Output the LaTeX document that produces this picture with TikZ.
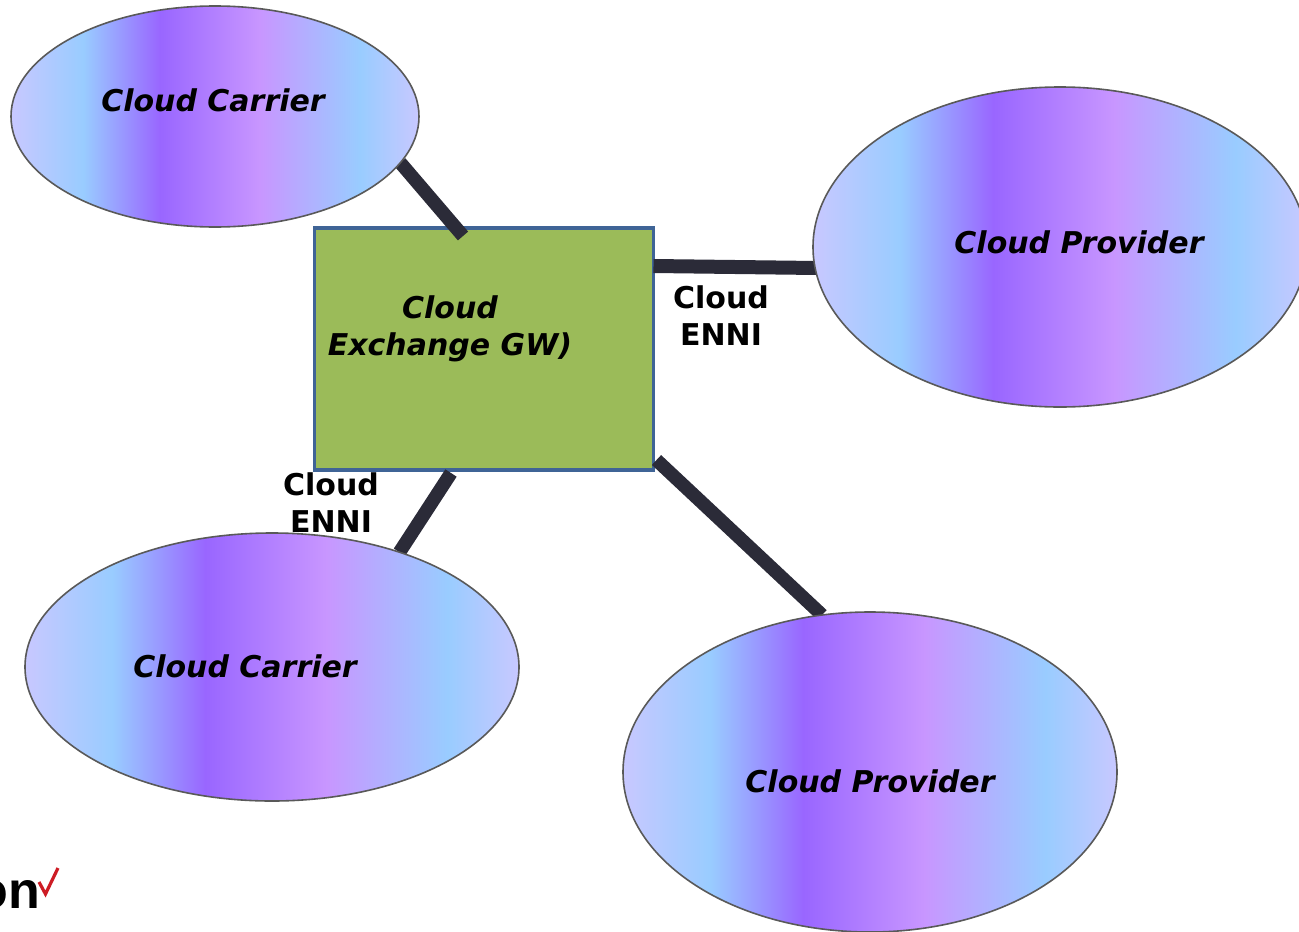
\documentclass[tikz,border=0pt]{standalone}
\usepackage{fontspec}
\setmainfont{DejaVu Sans}
\newfontfamily\logofont{Liberation Sans}
\usetikzlibrary{shapes.geometric}
\definecolor{lineink}{HTML}{2B2B38}
\definecolor{gwfill}{HTML}{9BBB59}
\definecolor{gwedge}{HTML}{3F6496}
\definecolor{ringedge}{HTML}{595959}
\definecolor{checkred}{HTML}{CD1C24}
\definecolor{gradend}{HTML}{C8C8FF}
\definecolor{gradblue}{HTML}{99CCFF}
\definecolor{gradviolet}{HTML}{9966FF}
\definecolor{gradlilac}{HTML}{C896FF}
\pgfdeclarehorizontalshading{cloudfill}{100bp}{
  color(0bp)=(gradend);
  color(25bp)=(gradend);
  color(33.85bp)=(gradblue);
  color(43.25bp)=(gradviolet);
  color(55.5bp)=(gradlilac);
  color(67.75bp)=(gradblue);
  color(75bp)=(gradend);
  color(100bp)=(gradend)}
\pgfdeclarelayer{gwlayer}
\pgfdeclarelayer{linelayer}
\pgfsetlayers{gwlayer,linelayer,main}
\tikzset{
  cloudring/.style={ellipse,shade,shading=cloudfill,draw=ringedge,line width=1.6pt,inner sep=0pt,outer sep=0pt},
  gwbox/.style={rectangle,fill=gwfill,draw=gwedge,line width=3.5pt,inner sep=0pt,outer sep=0pt,minimum width=339pt,minimum height=242pt},
  link/.style={draw=lineink,line cap=butt},
  cloudname/.style={font=\fontsize{30}{37}\selectfont\bfseries\itshape,align=center,inner sep=0pt},
  ennitext/.style={font=\fontsize{30}{37}\selectfont\bfseries,align=center,inner sep=0pt},
}
\begin{document}
\begin{tikzpicture}[x=1pt,y=-1pt]
\useasboundingbox (0,0) rectangle (1299,932);
\begin{pgfonlayer}{gwlayer}
\node[gwbox] (gw) at (484,349) {};
\end{pgfonlayer}
\node[cloudring,minimum width=408pt,minimum height=221pt] (e1) at (215,116.5) {};
\node[cloudring,minimum width=494pt,minimum height=320pt] (e2) at (1060,247) {};
\node[cloudring,minimum width=494pt,minimum height=268pt] (e3) at (272,667) {};
\node[cloudring,minimum width=494pt,minimum height=320pt] (e4) at (870,772) {};
\begin{pgfonlayer}{linelayer}
\draw[link,line width=13.5pt] (e1.-14) -- ([xshift=-21pt,yshift=-8pt]gw.north);
\draw[link,line width=14pt] ([yshift=-38pt]gw.north east) -- ([xshift=4pt,yshift=-21pt]e2.west);
\draw[link,line width=13.5pt] ([xshift=-33pt,yshift=-3pt]gw.south) -- (e3.42.6);
\draw[link,line width=13.5pt] ([xshift=3pt,yshift=10pt]gw.south east) -- (e4.107.5);
\end{pgfonlayer}
\node[cloudname] (t1) at (213,100) {Cloud Carrier};
\node[cloudname] (t2) at (1079,242) {Cloud Provider};
\node[cloudname] (t3) at (245,666) {Cloud Carrier};
\node[cloudname] (t4) at (870,781) {Cloud Provider};
\node[cloudname] (t5) at (450,328.5) {Cloud\\Exchange GW)};
\node[ennitext] (t6) at (721,315.5) {Cloud\\ENNI};
\node[ennitext] (t7) at (331,503) {Cloud\\ENNI};
\node[font=\logofont\fontsize{52}{52}\selectfont\bfseries,anchor=base east,inner sep=0pt] (logo) at (40,908) {on};
\draw[checkred,line width=3.2pt,line join=miter] (39,882) -- (45.5,894) -- (58,868);
\end{tikzpicture}
\end{document}
